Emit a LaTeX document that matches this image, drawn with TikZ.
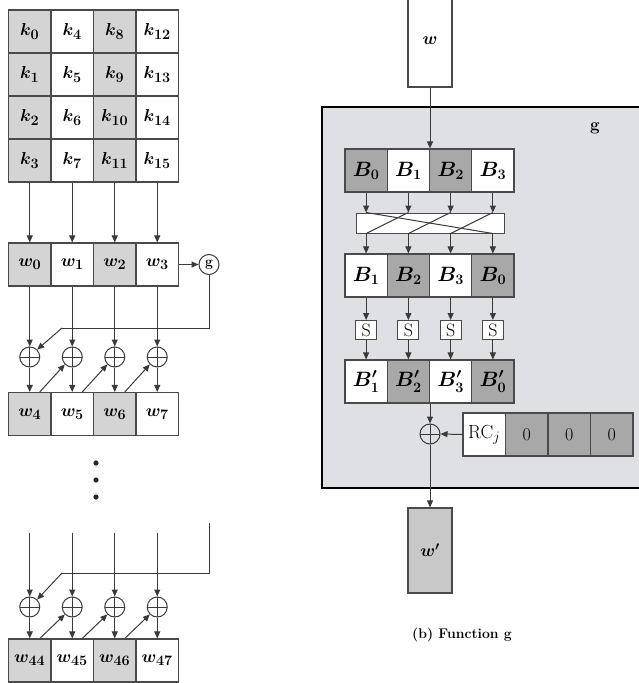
\documentclass[tikz,border=0pt]{standalone}
\usetikzlibrary{arrows.meta}
\definecolor{lineclr}{HTML}{3A3A3A}
\definecolor{cellline}{HTML}{4A4A4A}
\definecolor{shadeA}{HTML}{D4D4D4}
\definecolor{shadeB}{HTML}{A8A8A8}
\definecolor{gfill}{HTML}{DEE0E3}
\definecolor{woutfill}{HTML}{C8C8C8}
\begin{document}
\begin{tikzpicture}[x=1pt,y=-1pt,
  cell/.style={draw=cellline, line width=1.1pt, minimum width=42.5pt, minimum height=43pt,
    inner sep=0pt, font=\fontsize{19}{21}\selectfont\boldmath},
  bcell/.style={cell, minimum width=42.25pt, font=\fontsize{20}{22}\selectfont\boldmath},
  wire/.style={draw=lineclr, line width=1pt},
  arr/.style={wire, -{Triangle[length=7pt,width=6pt]}},
  xorc/.style={circle, draw=lineclr, line width=1pt, minimum size=20pt, inner sep=0pt,
    path picture={\draw[lineclr, line width=1pt]
      (path picture bounding box.north) -- (path picture bounding box.south)
      (path picture bounding box.west) -- (path picture bounding box.east);}},
  sbox/.style={draw=cellline, line width=1pt, fill=white, minimum width=21pt, minimum height=19pt,
    inner sep=0pt, font=\fontsize{18}{19}\selectfont},
]
\useasboundingbox (0,0) rectangle (638,683);

% ---------------- key expansion ----------------
% 4x4 key matrix
\foreach \c/\f in {0/shadeA,1/white,2/shadeA,3/white}{
  \foreach \r in {0,...,3}{
    \pgfmathtruncatemacro\n{4*\c+\r}
    \node[cell, fill=\f] (k\n) at (29.75+42.5*\c, 31.5+43*\r) {$k_{\n}$};
  }
}
% word rows
\foreach \c/\f in {0/shadeA,1/white,2/shadeA,3/white}{
  \node[cell, fill=\f] (w\c) at (29.75+42.5*\c, 264.5) {$w_{\c}$};
  \pgfmathtruncatemacro\m{\c+4}
  \node[cell, fill=\f] (w\m) at (29.75+42.5*\c, 414) {$w_{\m}$};
  \pgfmathtruncatemacro\q{\c+44}
  \node[cell, fill=\f] (w\q) at (29.75+42.5*\c, 660.5) {$w_{\q}$};
  \node[xorc] (xa\c) at (29.75+42.5*\c, 357) {};
  \node[xorc] (xb\c) at (29.75+42.5*\c, 607) {};
  \coordinate (t\c) at (29.75+42.5*\c, 533);
}
\node[circle, draw=lineclr, line width=1pt, minimum size=20pt, inner sep=0pt,
  font=\bfseries\fontsize{14}{15}\selectfont] (gfun) at (209,264.5) {g};

% key columns into the first words
\foreach \c/\r in {0/3,1/7,2/11,3/15}
  \draw[arr] (k\r.south) -- (w\c.north);
\draw[arr] (w3.east) -- (gfun.west);

% feedback from g
\coordinate (fb) at (62,328);
\draw[wire] (gfun.south) |- (fb);
\draw[arr] (fb) -- (xa0.north east);

\foreach \c in {0,...,3}{
  \pgfmathtruncatemacro\m{\c+4}
  \pgfmathtruncatemacro\q{\c+44}
  \draw[arr] (w\c.south) -- (xa\c.north);
  \draw[arr] (xa\c.south) -- (w\m.north);
  \draw[arr] (t\c) -- (xb\c.north);
  \draw[arr] (xb\c.south) -- (w\q.north);
}
\foreach \a/\b in {4/1,5/2,6/3}
  \draw[arr] ([xshift=10pt]w\a.north) -- (xa\b.south west);
\foreach \a/\b in {44/1,45/2,46/3}
  \draw[arr] ([xshift=10pt]w\a.north) -- (xb\b.south west);

% continuation dots
\foreach \y in {463,480,497}
  \fill[black!85] (96,\y) circle (2.6pt);

% last round feedback
\coordinate (rt) at (209,523);
\coordinate (rc) at (62,573);
\draw[wire] (rt) |- (rc);
\draw[arr] (rc) -- (xb0.north east);

% ---------------- function g ----------------
\draw[black, line width=2.6pt, fill=gfill] (322,107) rectangle (648,488);
\node[font=\bfseries\fontsize{17}{18}\selectfont] (glab) at (595,128) {g};

\node[draw=cellline, line width=1.1pt, fill=white, minimum width=44pt, minimum height=92pt,
  inner sep=0pt, font=\fontsize{19}{20}\selectfont\boldmath] (win) at (430,41) {$w$};

\foreach \i/\f/\t in {0/shadeB/0,1/white/1,2/shadeB/2,3/white/3}
  \node[bcell, fill=\f] (A\i) at (366.125+42.25*\i, 170.5) {$B_{\t}$};
\draw[arr] (win.south) -- (win.south |- A0.north);

\node[draw=cellline, line width=1pt, fill=white, minimum width=148pt, minimum height=20pt,
  inner sep=0pt] (perm) at (430,223) {};
\foreach \i in {0,...,3}
  \draw[arr] (A\i.south) -- (A\i.south |- perm.north);
% rotation of the four bytes
\draw[wire] (A0.south |- perm.north) -- (A3.south |- perm.south);
\draw[wire] (A1.south |- perm.north) -- (A0.south |- perm.south);
\draw[wire] (A2.south |- perm.north) -- (A1.south |- perm.south);
\draw[wire] (A3.south |- perm.north) -- (A2.south |- perm.south);

\foreach \i/\f/\t in {0/white/1,1/shadeB/2,2/white/3,3/shadeB/0}{
  \node[bcell, fill=\f] (C\i) at (366.125+42.25*\i, 275.5) {$B_{\t}$};
  \node[sbox] (S\i) at (366.125+42.25*\i, 330) {S};
  \node[bcell, fill=\f] (P\i) at (366.125+42.25*\i, 381.5) {$B'_{\t}$};
  \draw[arr] (C\i.north |- perm.south) -- (C\i.north);
  \draw[arr] (C\i.south) -- (S\i.north);
  \draw[arr] (S\i.south) -- (P\i.north);
}

\node[xorc] (xr) at (430,434) {};
\draw[arr] (xr.north |- P1.south) -- (xr.north);

\node[cell, fill=white, font=\fontsize{19}{20}\selectfont] (R0) at (484.25,434.5) {RC$_j$};
\foreach \i in {1,2,3}
  \node[cell, fill=shadeB, font=\fontsize{18}{19}\selectfont] (R\i) at (484.25+42.5*\i,434.5) {0};
\draw[arr] (R0.west) -- (xr.east);

\node[draw=cellline, line width=1.1pt, fill=woutfill, minimum width=44pt, minimum height=85pt,
  inner sep=0pt, font=\fontsize{18}{19}\selectfont\boldmath] (wout) at (430,550.5) {$w'$};
\draw[arr] (xr.south) -- (wout.north);

\node[font=\bfseries\fontsize{14}{16}\selectfont] (cap) at (462,635) {(b) Function g};
\end{tikzpicture}
\end{document}
